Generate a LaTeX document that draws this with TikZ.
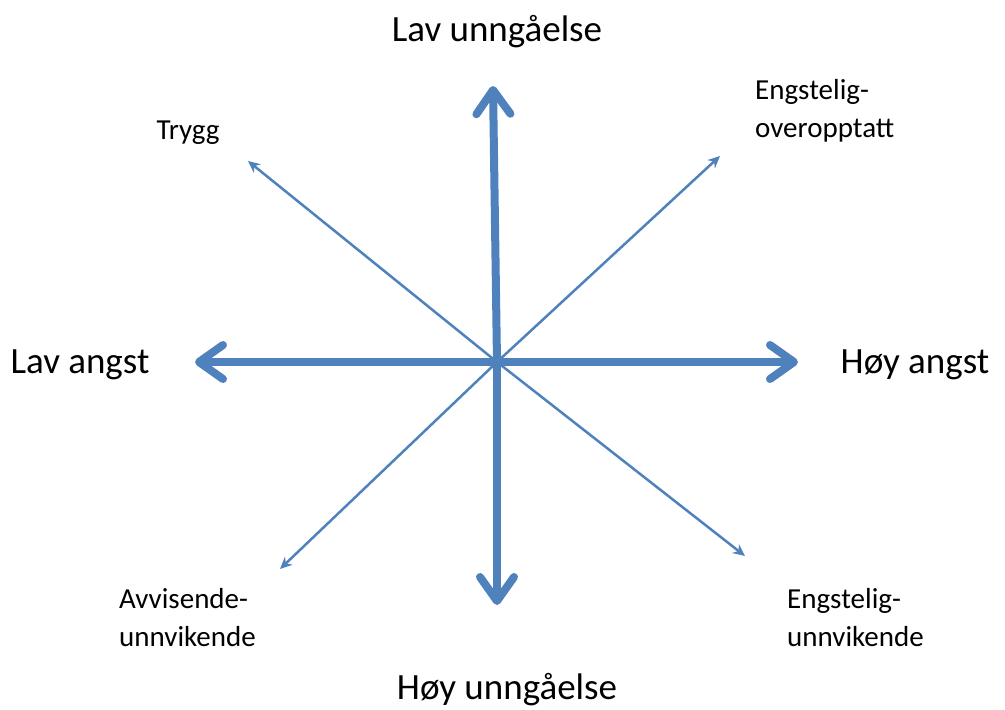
\documentclass[tikz,border=0pt]{standalone}
\usepackage{fontspec}
\setmainfont{Carlito}
\usepackage{tikz}
\usetikzlibrary{arrows.meta}
\definecolor{axisblue}{RGB}{79,129,189}
\tikzstyle{Axis}=[line width=8pt, draw=axisblue, line cap=round, -{Straight Barb[length=24pt, width=34pt, round]}]
\tikzstyle{Style}=[line width=2.5pt, draw=axisblue, -{Stealth[length=12pt, width=11pt]}]
\tikzstyle{BigLabel}=[font=\fontsize{37}{44}\selectfont, text=black, inner sep=0pt]
\tikzstyle{SmallLabel}=[font=\fontsize{29}{38}\selectfont, text=black, inner sep=0pt, align=left]

\begin{document}
\begin{tikzpicture}[x=1pt, y=-1pt]
	\useasboundingbox (0, 0) rectangle (1005, 710);
	% points
	\coordinate (centre) at (497, 362);
	\coordinate (lowavoid) at (493, 86);
	\coordinate (highavoid) at (497, 605);
	\coordinate (lowanx) at (195, 362);
	\coordinate (highanx) at (798, 362);
	\coordinate (secure) at (248, 161);
	\coordinate (preoccupied) at (720, 156);
	\coordinate (dismissing) at (280, 569);
	\coordinate (fearful) at (745, 556);
	% labels
	\node [style=BigLabel] (lowavoidtext) at (497, 32) {Lav unngåelse};
	\node [style=BigLabel] (highavoidtext) at (507, 690) {Høy unngåelse};
	\node [style=BigLabel] (lowanxtext) at (80, 365) {Lav angst};
	\node [style=BigLabel] (highanxtext) at (915, 365) {Høy angst};
	\node [style=SmallLabel] (securetext) at (188, 133) {Trygg};
	\node [style=SmallLabel, anchor=west] (preoccupiedtext) at (755, 111) {Engstelig-\\overopptatt};
	\node [style=SmallLabel, anchor=west] (dismissingtext) at (119, 618) {Avvisende-\\unnvikende};
	\node [style=SmallLabel, anchor=west] (fearfultext) at (787, 618) {Engstelig-\\unnvikende};
	% arrows
	\draw [style=Style] (centre) to (secure);
	\draw [style=Style] (centre) to (preoccupied);
	\draw [style=Style] (centre) to (dismissing);
	\draw [style=Style] (centre) to (fearful);
	\draw [style=Axis] (centre) to (lowavoid);
	\draw [style=Axis] (centre) to (highavoid);
	\draw [style=Axis] (centre) to (lowanx);
	\draw [style=Axis] (centre) to (highanx);
\end{tikzpicture}
\end{document}
